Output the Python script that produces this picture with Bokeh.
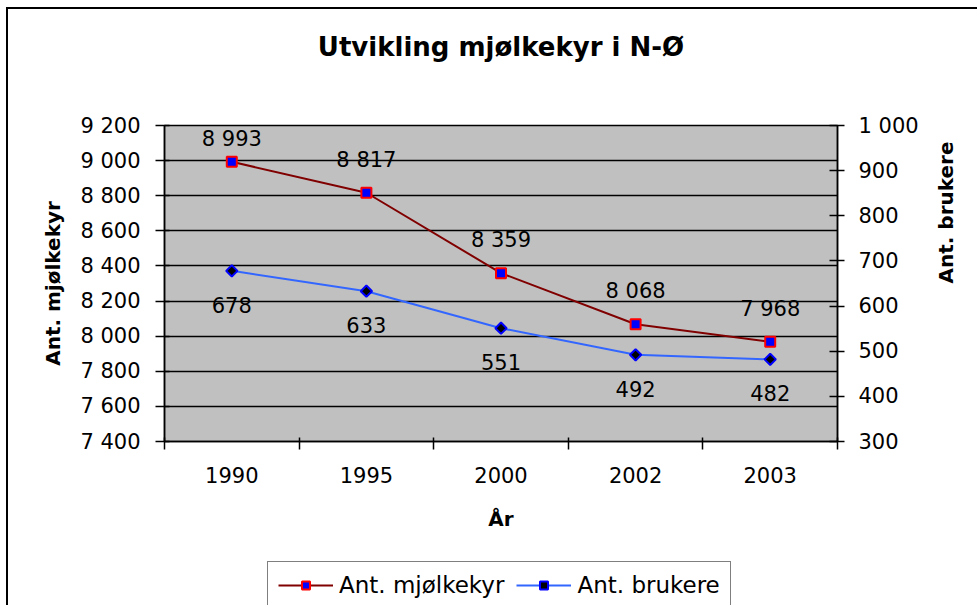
import math
from bokeh.plotting import figure
from bokeh.layouts import column
from bokeh.models import Range1d, LinearAxis, FixedTicker, Legend, LegendItem, ColumnDataSource, Title
from bokeh.embed import file_html
from bokeh.resources import INLINE
from bokeh.core.properties import value

# ---- data ----
years = ["1990", "1995", "2000", "2002", "2003"]
mjolkekyr = [8993, 8817, 8359, 8068, 7968]
brukere = [678, 633, 551, 492, 482]
left_ticks = [7400, 7600, 7800, 8000, 8200, 8400, 8600, 8800, 9000, 9200]
right_ticks = [300, 400, 500, 600, 700, 800, 900, 1000]
series_names = ["Ant. mjølkekyr", "Ant. brukere"]

FONT = "DejaVu Sans"

KYR_STYLE = dict(line_color="#800000", line_width=2)
KYR_MARK = dict(marker="square", size=10, fill_color="#0000FF", line_color="#FF0000", line_width=2)
BRU_STYLE = dict(line_color="#3366FF", line_width=2)
BRU_MARK = dict(marker="square", angle=math.pi / 4, size=8, fill_color="black",
                line_color="#0000FF", line_width=2)


def fmt(v):
    return f"{v:,}".replace(",", " ")


xc = [i + 0.5 for i in range(len(years))]
src = ColumnDataSource(dict(
    x=xc,
    kyr=mjolkekyr,
    bru=brukere,
    kyr_lab=[fmt(v) for v in mjolkekyr],
    bru_lab=[fmt(v) for v in brukere],
    kyr_off=[-23] + [-33] * (len(mjolkekyr) - 1),
))

p = figure(frame_width=673, frame_height=316,
           min_border_left=164, min_border_right=140,
           min_border_top=125, min_border_bottom=109,
           x_range=Range1d(0, len(years)),
           y_range=Range1d(left_ticks[0], left_ticks[-1]),
           output_backend="svg", toolbar_location=None)
p.extra_y_ranges = {"b": Range1d(right_ticks[0], right_ticks[-1])}

p.background_fill_color = "#C0C0C0"
p.border_fill_color = None
p.outline_line_color = "black"
p.outline_line_width = 1.5

p.title.text = ""
# spacer between frame and title, then the title itself
p.add_layout(Title(text=" ", text_font_size="2px", standoff=60), "above")
p.add_layout(Title(text="Utvikling mjølkekyr i N-Ø", text_font=FONT, text_font_size="26px",
                   text_font_style="bold", text_color="black", align="center",
                   standoff=0), "above")

# x axis
xa = p.xaxis[0]
xa.ticker = FixedTicker(ticks=xc, minor_ticks=list(range(len(years) + 1)))
xa.major_label_overrides = {x: y for x, y in zip(xc, years)}
xa.major_tick_in = 0
xa.major_tick_out = 0
xa.minor_tick_in = 4
xa.minor_tick_out = 8
xa.minor_tick_line_color = "black"
xa.minor_tick_line_width = 1.5
xa.axis_line_color = "black"
xa.axis_line_width = 1.5
xa.major_label_text_font = FONT
xa.major_label_text_font_size = "21px"
xa.major_label_text_color = "black"
xa.major_label_standoff = 17
xa.axis_label = "År"
xa.axis_label_text_font = FONT
xa.axis_label_text_font_size = "20px"
xa.axis_label_text_font_style = "bold"
xa.axis_label_text_color = "black"
xa.axis_label_standoff = 21

# left axis
ya = p.yaxis[0]
ya.ticker = FixedTicker(ticks=left_ticks)
ya.major_label_overrides = {v: fmt(v) for v in left_ticks}
ya.minor_tick_line_color = None
ya.major_tick_in = 5
ya.major_tick_out = 9
ya.major_tick_line_color = "black"
ya.major_tick_line_width = 1.5
ya.axis_line_width = 1.5
ya.major_label_text_font = FONT
ya.major_label_text_font_size = "21px"
ya.major_label_text_color = "black"
ya.major_label_standoff = 15
ya.axis_label = series_names[0]
ya.axis_label_text_font = FONT
ya.axis_label_text_font_size = "20px"
ya.axis_label_text_font_style = "bold"
ya.axis_label_text_color = "black"
ya.axis_label_standoff = 12

# right axis
ra = LinearAxis(y_range_name="b", ticker=FixedTicker(ticks=right_ticks))
ra.major_label_overrides = {v: fmt(v) for v in right_ticks}
ra.minor_tick_line_color = None
ra.major_tick_in = 8
ra.major_tick_out = 7
ra.major_tick_line_width = 1.5
ra.axis_line_width = 1.5
ra.major_label_text_font = FONT
ra.major_label_text_font_size = "21px"
ra.major_label_text_color = "black"
ra.major_label_standoff = 14
ra.axis_label = series_names[1]
ra.axis_label_text_font = FONT
ra.axis_label_text_font_size = "20px"
ra.axis_label_text_font_style = "bold"
ra.axis_label_text_color = "black"
ra.axis_label_standoff = 24
ra.axis_label_orientation = math.pi / 2
p.add_layout(ra, "right")

p.xgrid.grid_line_color = None
p.ygrid.ticker = FixedTicker(ticks=left_ticks)
p.ygrid.grid_line_color = "black"
p.ygrid.grid_line_width = 1.5
p.ygrid.grid_line_alpha = 1

# series
p.line("x", "kyr", source=src, **KYR_STYLE)
p.scatter("x", "kyr", source=src, **KYR_MARK)
p.line("x", "bru", source=src, y_range_name="b", **BRU_STYLE)
p.scatter("x", "bru", source=src, y_range_name="b", **BRU_MARK)

p.text("x", "kyr", text="kyr_lab", source=src, y_offset="kyr_off",
       text_align="center", text_baseline="middle",
       text_font=value(FONT), text_font_size="21px", text_color="black")
p.text("x", "bru", text="bru_lab", source=src, y_range_name="b", y_offset=34,
       text_align="center", text_baseline="middle",
       text_font=value(FONT), text_font_size="21px", text_color="black")

p.styles = {"background": "linear-gradient(#000,#000) 6px 7px / 2px 100% no-repeat, "
                          "linear-gradient(#000,#000) 6px 7px / 100% 2px no-repeat, #fff"}

# ---- legend strip (continuation of the chart area) ----
p2 = figure(width=977, height=55, min_border=0,
            x_range=Range1d(0, 1), y_range=Range1d(0, 1),
            x_axis_type=None, y_axis_type=None,
            output_backend="svg", toolbar_location=None)
p2.background_fill_color = None
p2.border_fill_color = None
p2.outline_line_color = None
p2.grid.visible = False
# legend proxies: same series, outside this strip's visible range
l1 = p2.line("x", "kyr", source=src, **KYR_STYLE)
m1 = p2.scatter("x", "kyr", source=src, **KYR_MARK)
l2 = p2.line("x", "bru", source=src, **BRU_STYLE)
m2 = p2.scatter("x", "bru", source=src, **BRU_MARK)

legend = Legend(items=[LegendItem(label=series_names[0], renderers=[l1, m1]),
                       LegendItem(label=series_names[1], renderers=[l2, m2])],
                orientation="horizontal", location=(103, -4))
legend.label_text_font = FONT
legend.label_text_font_size = "23px"
legend.label_text_color = "black"
legend.border_line_color = "black"
legend.border_line_width = 1.5
legend.background_fill_color = "white"
legend.background_fill_alpha = 1
legend.glyph_width = 55
legend.glyph_height = 20
legend.label_standoff = 6
legend.spacing = 12
legend.padding = 10
legend.margin = 0
p2.add_layout(legend)
p2.styles = {"background": "linear-gradient(#000,#000) 6px 0 / 2px 100% no-repeat, #fff"}

layout = column(p, p2, spacing=0)
open("out.html", "w").write(file_html(layout, INLINE))
